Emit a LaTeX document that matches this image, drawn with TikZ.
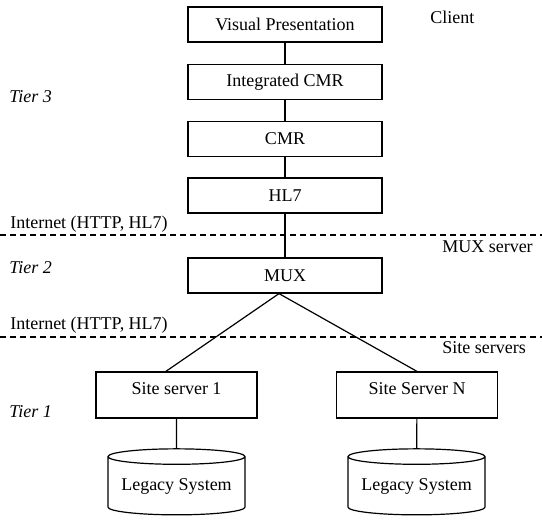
\documentclass[tikz,border=0pt]{standalone}
\usepackage{fontspec}
\setmainfont{Liberation Serif}
\usetikzlibrary{shapes.geometric}

\tikzset{
  tierbox/.style={draw, line width=0.9pt, minimum width=145.5pt, minimum height=26.25pt, inner sep=0pt},
  sitebox/.style={draw, line width=0.9pt, minimum width=120.75pt, inner ysep=0pt, text height=16.5pt, text depth=18pt},
  legacydb/.style={draw, line width=0.9pt, cylinder, shape border rotate=90, aspect=0.14, minimum width=102.75pt, minimum height=49.5pt, inner sep=0pt},
  netline/.style={dash pattern={on 4.5pt off 3pt}, line width=0.8pt},
  link/.style={line width=0.9pt}
}

\begin{document}
\begin{tikzpicture}[x=0.75pt,y=0.75pt,yscale=-1,font=\fontsize{13.5}{16}\selectfont]
\useasboundingbox (0,0) rectangle (542,521);

% Client tier
\node[tierbox] (visual) at (285,24.5) {Visual Presentation};
\node[tierbox] (icmr) at (285,82) {Integrated CMR};
\node[tierbox] (cmr) at (285,139) {CMR};
\node[tierbox] (hl7) at (285,195.5) {HL7};

% MUX tier
\node[tierbox] (mux) at (285,275.5) {MUX};

% Site tier
\node[sitebox] (site1) at (176.5,395) {Site server 1};
\node[sitebox] (siten) at (417,395) {Site Server N};
\node[legacydb] (legacy1) at (176.5,486) {Legacy System};
\node[legacydb] (legacyn) at (416.5,486) {Legacy System};

% tier names
\node[anchor=west, inner sep=0pt] (tier3) at (9,97) {\itshape Tier 3};
\node[anchor=west, inner sep=0pt] (tier2) at (9,268) {\itshape Tier 2};
\node[anchor=west, inner sep=0pt] (tier1) at (9,412) {\itshape Tier 1};

% server names
\node[anchor=west, inner sep=0pt] (client) at (430,17) {Client};
\node[anchor=west, inner sep=0pt] (muxsrv) at (442,247) {MUX server};
\node[anchor=west, inner sep=0pt] (sitesrv) at (442,348) {Site servers};

% network boundaries
\node[anchor=west, inner sep=0pt] (net1) at (10,224) {Internet (HTTP, HL7)};
\node[anchor=west, inner sep=0pt] (net2) at (10,325) {Internet (HTTP, HL7)};
\coordinate (b1l) at (0,235);
\coordinate (b1r) at (542,235);
\coordinate (b2l) at (0,337);
\coordinate (b2r) at (542,337);
\draw[netline] (b1l) -- (b1r);
\draw[netline] (b2l) -- (b2r);

% links
\draw[link] (visual) -- (icmr);
\draw[link] (icmr) -- (cmr);
\draw[link] (cmr) -- (hl7);
\draw[link] (hl7) -- (mux);
\draw[link] ([xshift=-4.5pt]mux.south) -- ([xshift=-8pt]site1.north);
\draw[link] ([xshift=-4.5pt]mux.south) -- (siten.north);
\draw[link] (site1) -- (legacy1);
\draw[link] (siten) -- (legacyn);

\end{tikzpicture}
\end{document}
